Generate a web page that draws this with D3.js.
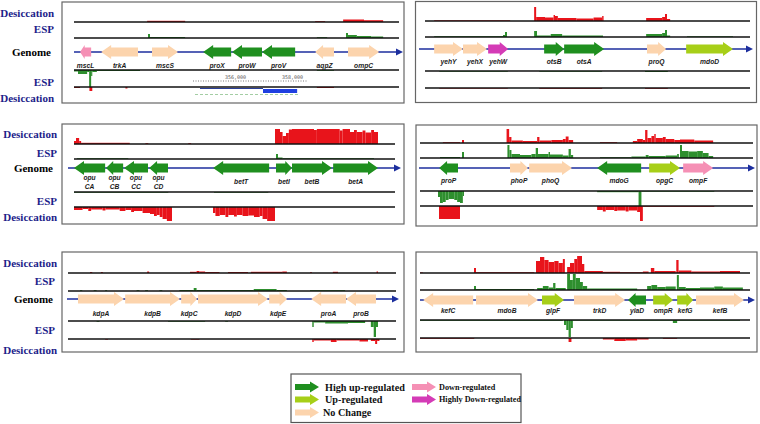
<!DOCTYPE html>
<html><head><meta charset="utf-8">
<script src="https://cdn.jsdelivr.net/npm/d3@7"></script>
<style>body{margin:0;background:#fff}svg{display:block}</style>
</head><body>
<svg id="c" width="760" height="424"></svg>
<script>
// ---------- DATA ----------
// Track names
const trackNames = ["Desiccation", "ESP", "Genome", "ESP", "Desiccation"];
// Genomic window lengths (kb) for each panel, and the drawn genome axis extents (kb)
const windowKb = [11.375, 11.375, 11.235, 11.655, 11.48, 11.55];
const axisKb = [[0, 11.515], [-0.21, 11.48], [-0.21, 11.445], [-0.035, 11.725], [-0.035, 11.585], [0, 11.725]];
// Panel 1 coordinate origin (bp) and browser scale
const p1OriginBp = 350350;
const scaleTicksBp = [356000, 358000];
const scaleRuleBp = [354515, 358540];
const featureLineBp = [354760, 356965];
const featureBarBp = [356965, 358160];
const featureGreenBp = [354585, 358260];

// Genes: [name, start kb, end kb, strand, regulation]
const genes1 = [
  ["mscL", 0.21, 0.60, -1, "down"], ["trkA", 0.95, 2.24, -1, "none"], ["mscS", 2.73, 3.64, 1, "none"],
  ["proX", 4.52, 5.50, -1, "high"], ["proW", 5.53, 6.58, -1, "high"], ["proV", 6.58, 7.74, -1, "high"],
  ["aqpZ", 8.44, 9.10, -1, "none"], ["ompC", 9.59, 10.68, 1, "none"]
];
const genes2 = [
  ["yehY", 0.32, 1.33, 1, "none"], ["yehX", 1.33, 2.17, 1, "none"], ["yehW", 2.21, 2.91, 1, "highdown"],
  ["otsB", 4.17, 4.87, 1, "high"], ["otsA", 4.87, 6.27, 1, "high"], ["proQ", 7.77, 8.44, 1, "none"],
  ["mdoD", 9.14, 10.78, 1, "up"]
];
const genes3 = [
  ["opu|CA", 0.0, 1.09, -1, "high"], ["opu|CB", 1.12, 1.72, -1, "high"], ["opu|CC", 1.75, 2.59, -1, "high"],
  ["opu|CD", 2.63, 3.29, -1, "high"], ["betT", 4.87, 6.83, -1, "high"], ["betI", 7.07, 7.63, 1, "high"],
  ["betB", 7.63, 9.03, 1, "high"], ["betA", 9.07, 10.64, 1, "high"]
];
const genes4 = [
  ["proP", 0.67, 1.33, -1, "high"], ["phoP", 3.15, 3.78, 1, "none"], ["phoQ", 3.82, 5.32, 1, "none"],
  ["mdoG", 6.20, 7.74, -1, "high"], ["opgC", 8.02, 9.10, 1, "up"], ["ompF", 9.21, 10.26, 1, "down"]
];
const genes5 = [
  ["kdpA", 0.35, 1.96, 1, "none"], ["kdpB", 2.00, 3.92, 1, "none"], ["kdpC", 3.96, 4.52, 1, "none"],
  ["kdpD", 4.55, 7.00, 1, "none"], ["kdpE", 7.04, 7.67, 1, "none"], ["proA", 8.51, 9.73, -1, "none"],
  ["proB", 9.73, 10.78, -1, "none"]
];
const genes6 = [
  ["kefC", 0.11, 1.86, -1, "none"], ["mdoB", 1.96, 4.13, 1, "none"], ["glpF", 4.27, 5.04, 1, "up"],
  ["trkD", 5.39, 7.18, 1, "none"], ["yiaD", 7.28, 7.91, -1, "high"], ["ompR", 8.16, 8.86, 1, "up"],
  ["kefG", 9.00, 9.56, 1, "up"], ["kefB", 9.66, 11.34, 1, "none"]
];

// Coverage tracks: [start kb, end kb, coverage]
// D1 = Desiccation (upper), E1 = ESP (upper), E2 = ESP (lower, mirrored), D2 = Desiccation (lower, mirrored)
const p1D1 = [[2.56, 3.89, 1.2], [8.44, 8.79, 0.8], [9.42, 10.15, 2.5], [10.15, 10.82, 1.8]];
const p1E1 = [[2.59, 2.66, 4], [2.66, 3.89, 1], [8.5, 8.86, 0.8], [9.52, 9.59, 5], [9.59, 9.9, 3], [9.9, 10.4, 2], [10.4, 10.82, 1.5]];
const p1E2 = [[0.0, 0.14, 1.5], [0.14, 0.46, 4], [0.46, 0.53, 2], [0.53, 0.6, 17], [0.6, 0.64, 6], [0.64, 0.8, 2], [0.8, 2.31, 1], [8.5, 9.1, 0.8]];
const p1D2 = [[0.0, 0.21, 1], [0.54, 0.64, 4], [1.8, 1.87, 1.5], [8.5, 9.1, 1]];

const p2D1 = [[0.32, 2.98, 0.7], [3.82, 3.89, 14], [3.89, 4.2, 4], [4.2, 4.5, 3.5], [4.5, 4.55, 6], [4.55, 4.65, 5],
  [4.65, 5.3, 3], [5.3, 5.9, 2.5], [5.9, 6.2, 3.5], [6.2, 6.25, 5], [7.74, 8.3, 3], [8.3, 8.4, 4], [8.4, 8.47, 7], [8.47, 8.58, 2]];
const p2E1 = [[0.32, 2.73, 0.8], [2.73, 2.8, 2], [2.8, 2.87, 5], [3.82, 3.92, 6], [3.92, 4.4, 1.5], [4.4, 4.8, 3], [4.8, 6.23, 1.5],
  [7.74, 8.3, 3], [8.3, 8.4, 4], [8.4, 8.47, 7], [8.47, 8.58, 1.5], [9.17, 10.78, 0.7]];
const p2E2 = [[0.5, 2.9, 0.7], [4.0, 6.2, 0.7], [7.7, 8.5, 1]];
const p2D2 = [[0.5, 2.9, 0.6], [4.0, 6.2, 0.8], [7.7, 8.5, 0.8]];

const p3D1 = [[0, 0.07, 3], [0.07, 0.18, 6], [0.18, 0.25, 3], [0.25, 1.95, 1.2], [2.5, 2.6, 0.8], [4.0, 4.1, 0.8],
  [7.035, 7.21, 15], [7.21, 7.3, 12], [7.3, 7.42, 8], [7.42, 7.52, 11], [7.52, 7.63, 14.5], [7.63, 8.4, 15], [8.4, 8.5, 14],
  [8.5, 9.3, 15], [9.3, 9.4, 13.5], [9.4, 9.66, 15], [9.66, 9.8, 12], [9.8, 9.9, 14], [9.9, 10.1, 12], [10.1, 10.2, 13.5],
  [10.2, 10.4, 11.5], [10.4, 10.5, 14], [10.5, 10.64, 12]];
const p3E1 = [[0.1, 1.9, 0.8], [7.07, 7.14, 5], [7.14, 7.3, 1.5], [7.3, 10.5, 0.8]];
const p3E2 = [[0, 3.3, 0.7], [4.9, 6.8, 0.7]];
const p3D2 = [[0, 0.3, 3], [0.3, 0.5, 2], [0.5, 0.6, 4], [0.6, 1.0, 2.5], [1.0, 1.1, 3.5], [1.1, 1.6, 2.5], [1.6, 1.8, 4],
  [1.8, 2.0, 3], [2.0, 2.1, 5], [2.1, 2.4, 4], [2.4, 2.66, 6], [2.66, 2.8, 7], [2.8, 2.9, 9], [2.9, 3.0, 8], [3.0, 3.1, 10],
  [3.1, 3.25, 12], [3.25, 3.43, 14], [4.865, 4.95, 6], [4.95, 5.1, 9], [5.1, 5.3, 8], [5.3, 5.4, 10], [5.4, 5.6, 8],
  [5.6, 5.7, 9.5], [5.7, 5.9, 8], [5.9, 6.1, 9], [6.1, 6.3, 8.5], [6.3, 6.5, 10], [6.5, 6.6, 9], [6.6, 6.76, 12], [6.76, 7.035, 14]];

const p4D1 = [[0.8, 1.4, 0.8], [1.47, 1.54, 3], [3.03, 3.12, 14], [3.12, 3.2, 6], [3.2, 3.6, 2.5], [3.6, 4.1, 2], [4.1, 4.18, 6],
  [4.18, 4.6, 2.5], [4.6, 5.0, 3], [5.0, 5.1, 4], [5.1, 5.2, 6.5], [5.2, 5.36, 3], [6.3, 6.9, 0.8], [7.45, 7.6, 2], [7.6, 7.8, 4],
  [7.8, 7.88, 3], [7.88, 7.96, 13], [7.96, 8.1, 5], [8.1, 8.2, 7], [8.2, 8.25, 9], [8.25, 8.5, 5], [8.5, 8.6, 6], [8.6, 8.9, 4],
  [8.9, 9.1, 3], [9.1, 9.6, 3.5], [9.6, 10.26, 2.5]];
const p4E1 = [[0.7, 1.4, 1], [1.47, 1.54, 6], [3.06, 3.13, 13], [3.13, 3.2, 8], [3.2, 3.5, 4], [3.5, 3.9, 3], [3.9, 4.05, 4],
  [4.05, 4.13, 10], [4.13, 4.5, 4], [4.5, 4.55, 6], [4.55, 5.0, 3.5], [5.0, 5.2, 2.5], [5.2, 5.28, 9], [5.28, 5.36, 3],
  [6.3, 7.4, 0.8], [7.4, 7.9, 1.5], [7.9, 8.0, 3], [8.0, 8.6, 2], [8.6, 9.0, 2.5], [9.0, 9.06, 4], [9.1, 9.17, 13],
  [9.17, 9.4, 7], [9.4, 9.7, 6.5], [9.7, 9.9, 7], [9.9, 10.1, 5], [10.1, 10.26, 2]];
const p4E2 = [[0.63, 0.7, 6], [0.7, 0.8, 12], [0.8, 0.9, 11], [0.9, 1.0, 9], [1.0, 1.2, 8], [1.2, 1.3, 9], [1.3, 1.4, 11],
  [1.4, 1.5, 12], [1.5, 1.54, 5], [6.2, 7.65, 1.2], [7.65, 7.75, 15], [7.75, 10.3, 0.7]];
const p4D2 = [[0.665, 1.4, 13], [6.2, 6.4, 4], [6.4, 6.5, 5.5], [6.5, 6.8, 4], [6.8, 6.9, 5], [6.9, 7.2, 4.5], [7.2, 7.3, 5.5],
  [7.3, 7.6, 4.5], [7.6, 7.7, 6], [7.7, 7.8, 15], [7.8, 10.3, 0.8]];

const p5D1 = [[0.77, 0.85, 1], [1.15, 1.22, 1], [2.77, 2.84, 1.5], [4.27, 4.5, 1.2], [4.5, 4.6, 2], [4.6, 4.8, 1.5],
  [4.8, 5.3, 1], [5.6, 6.3, 1], [6.4, 7.5, 1.2], [7.5, 7.66, 1.5], [8.47, 8.54, 0.8], [9.27, 9.45, 1.2], [10.8, 10.85, 1.5]];
const p5E1 = [[0.42, 0.5, 0.8], [0.9, 1.0, 0.8], [1.3, 1.37, 0.8], [2.4, 2.5, 0.8], [2.7, 2.8, 0.8], [3.2, 3.3, 0.8],
  [3.9, 4.4, 1], [4.4, 4.5, 3], [4.5, 6.5, 1], [6.5, 7.3, 2], [7.3, 7.66, 1], [8.47, 9.7, 0.8]];
const p5E2 = [[1.0, 1.1, 0.8], [3.5, 4.8, 0.7], [5.5, 5.6, 0.7], [8.55, 8.6, 6], [8.6, 9.0, 1.5], [9.0, 9.8, 2.5],
  [9.8, 10.4, 2], [10.6, 10.7, 6], [10.7, 10.78, 16], [10.78, 10.85, 6]];
const p5D2 = [[1.3, 1.4, 0.6], [4.3, 4.6, 0.6], [8.55, 8.6, 3], [8.6, 9.2, 1.5], [9.2, 9.4, 3], [9.4, 10.2, 1.5],
  [10.2, 10.5, 2.5], [10.6, 10.75, 2], [10.75, 10.82, 5], [10.82, 10.9, 2]];

const p6D1 = [[0.0, 0.1, 0.6], [1.89, 1.96, 5], [1.96, 4.0, 0.8], [4.06, 4.2, 12], [4.2, 4.35, 16], [4.35, 4.5, 13],
  [4.5, 4.7, 11], [4.7, 4.85, 12], [4.85, 5.0, 10], [5.0, 5.07, 14], [5.15, 5.25, 6], [5.25, 5.4, 10], [5.4, 5.5, 14],
  [5.5, 5.67, 17], [5.67, 5.75, 9], [5.75, 6.4, 2], [6.4, 7.0, 1.2], [7.0, 7.8, 0.8], [7.8, 8.0, 1.5], [8.08, 8.2, 5],
  [8.2, 8.95, 2], [8.97, 9.05, 13], [9.05, 9.5, 2.5], [9.5, 10.5, 1.5], [10.5, 11.2, 2]];
const p6E1 = [[1.89, 1.96, 4], [1.96, 4.0, 1], [4.1, 4.3, 2], [4.3, 4.5, 4], [4.5, 4.66, 2.5], [4.66, 4.74, 7], [4.74, 5.1, 2],
  [5.15, 5.25, 16], [5.25, 5.35, 10], [5.35, 5.45, 16], [5.45, 5.6, 12], [5.6, 5.7, 8], [5.7, 5.85, 4], [5.85, 7.6, 1.5],
  [7.95, 8.1, 4], [8.1, 8.3, 5], [8.3, 8.6, 3], [8.6, 8.95, 3.5], [8.99, 9.06, 15], [9.06, 9.3, 3], [9.3, 9.8, 2],
  [9.8, 10.3, 2.5], [10.3, 10.6, 3.5], [10.6, 11.3, 2.5]];
const p6E2 = [[0.0, 5.0, 0.8], [5.04, 5.12, 5], [5.12, 5.2, 10], [5.2, 5.28, 17], [5.28, 5.35, 8], [5.35, 11.2, 0.7], [8.85, 9.0, 3]];
const p6D2 = [[0.0, 1.9, 0.8], [5.2, 5.3, 4], [6.4, 6.8, 1.5], [6.8, 7.2, 3], [7.2, 7.6, 2.5], [7.6, 8.0, 1.5], [8.5, 9.0, 0.8]];

// Legend categories
const legendItems = [
  ["high", "High up-regulated"], ["up", "Up-regulated"], ["none", "No Change"],
  ["down", "Down-regulated"], ["highdown", "Highly Down-regulated"]
];

// ---------- STYLE / LAYOUT ----------
const geneColor = { high: "#1f8f1f", up: "#a7cf18", none: "#fcd4ad", down: "#f590b5", highdown: "#d43bb6" };
const RED = "#e8141b", GREEN = "#2e8f2e", AXIS = "#1c2e9e", NAVY = "#1d1d8a";

const layout = [
  { box: [62, 2, 342, 101], x: [74, 399], y: [22, 38, 52, 66, 70, 87] },
  { box: [415.5, 1.5, 341, 101], x: [425, 750], y: [21, 37, 49, 62, 71, 88] },
  { box: [62, 124, 342, 100], x: [74, 395], y: [144, 159, 168, 182, 192, 207] },
  { box: [416, 125, 341, 101], x: [420, 753], y: [143, 158, 168, 181, 191, 206] },
  { box: [62, 252, 342, 100], x: [68, 396], y: [273, 291, 299, 314, 321, 339] },
  { box: [416, 252, 341, 100], x: [420, 750], y: [273, 290, 300, 311, 320, 338] }
];
const allGenes = [genes1, genes2, genes3, genes4, genes5, genes6];
const allTracks = [
  [p1D1, p1E1, p1E2, p1D2], [p2D1, p2E1, p2E2, p2D2], [p3D1, p3E1, p3E2, p3D2],
  [p4D1, p4E1, p4E2, p4D2], [p5D1, p5E1, p5E2, p5D2], [p6D1, p6E1, p6E2, p6D2]
];
const labelGroups = [
  { panel: 0, ys: [13, 29, 52, 82, 98], xr: [54, 54, 51, 54, 54] },
  { panel: 2, ys: [134, 153, 168, 201, 217], xr: [57, 57, 53, 57, 57] },
  { panel: 4, ys: [263, 281, 299, 330, 350], xr: [57, 55, 53, 55, 57] }
];

const svg = d3.select("#c");
const cov = d3.scaleLinear().domain([0, 16]).range([0, 16]);

function arrowPath(xa, xb, yc, strand, bodyH, headH, headMax) {
  const len = Math.abs(xb - xa);
  const hl = Math.min(headMax, len * 0.42);
  const b = bodyH / 2, h = headH / 2;
  if (strand > 0) {
    return `M${xa},${yc - b}L${xb - hl},${yc - b}L${xb - hl},${yc - h}L${xb},${yc}L${xb - hl},${yc + h}L${xb - hl},${yc + b}L${xa},${yc + b}Z`;
  }
  return `M${xb},${yc - b}L${xa + hl},${yc - b}L${xa + hl},${yc - h}L${xa},${yc}L${xa + hl},${yc + h}L${xa + hl},${yc + b}L${xb},${yc + b}Z`;
}

layout.forEach((L, i) => {
  const g = svg.append("g");
  const x = d3.scaleLinear().domain([0, windowKb[i]]).range(L.x);
  const [yD1, yE1, yG, yLab, yE2, yD2] = L.y;
  // box
  g.append("rect").attr("x", L.box[0]).attr("y", L.box[1]).attr("width", L.box[2]).attr("height", L.box[3])
    .attr("fill", "none").attr("stroke", "#666").attr("stroke-width", 1.2);

  // coverage tracks
  const specs = [[yD1, -1, RED], [yE1, -1, GREEN], [yE2, 1, GREEN], [yD2, 1, RED]];
  allTracks[i].forEach((tr, k) => {
    const [base, dir, col] = specs[k];
    g.append("g").selectAll("rect").data(tr).join("rect")
      .attr("x", d => x(d[0]))
      .attr("width", d => Math.max(1, x(d[1]) - x(d[0])))
      .attr("y", d => dir < 0 ? base - cov(d[2]) : base)
      .attr("height", d => cov(d[2]))
      .attr("fill", col);
  });

  // track lines
  [yD1, yE1, yE2, yD2].forEach(yy => {
    g.append("line").attr("x1", x(0)).attr("x2", x(windowKb[i])).attr("y1", yy).attr("y2", yy)
      .attr("stroke", "#111").attr("stroke-width", 1.5);
  });

  // genome axis
  const [a0, a1] = axisKb[i];
  g.append("line").attr("x1", x(a0)).attr("x2", x(a1) - 5).attr("y1", yG).attr("y2", yG)
    .attr("stroke", AXIS).attr("stroke-width", 1.6);
  g.append("path").attr("d", `M${x(a1)},${yG}L${x(a1) - 7},${yG - 3.5}L${x(a1) - 7},${yG + 3.5}Z`).attr("fill", AXIS);

  // genes
  const gg = g.append("g").selectAll("g").data(allGenes[i]).join("g");
  gg.append("path")
    .attr("d", d => arrowPath(x(d[1]), x(d[2]), yG, d[3], 9, 14, 10))
    .attr("fill", d => geneColor[d[4]]);
  gg.each(function (d) {
    const parts = d[0].split("|");
    const cx = (x(d[1]) + x(d[2])) / 2;
    const t = d3.select(this).append("text").attr("x", cx)
      .attr("text-anchor", "middle")
      .attr("font-family", "Liberation Sans, Arial, sans-serif")
      .attr("font-size", 6.7).attr("font-weight", "bold").attr("font-style", "italic").attr("fill", "#1a1a1a");
    if (parts.length === 1) {
      t.attr("y", yLab).attr("dy", "0.35em").text(parts[0]);
    } else {
      t.append("tspan").attr("x", cx).attr("y", yLab - 4.5).attr("dy", "0.35em").text(parts[0]);
      t.append("tspan").attr("x", cx).attr("y", yLab + 4.5).attr("dy", "0.35em").text(parts[1]);
    }
  });

  // panel 1: genome browser ruler and feature
  if (i === 0) {
    const bx = bp => x((bp - p1OriginBp) / 1000);
    g.append("line").attr("x1", bx(scaleRuleBp[0])).attr("x2", bx(scaleRuleBp[1])).attr("y1", 81).attr("y2", 81)
      .attr("stroke", "#555").attr("stroke-width", 0.8).attr("stroke-dasharray", "1,1.5");
    g.selectAll(".tk").data(scaleTicksBp).join("text").attr("x", d => bx(d)).attr("y", 79)
      .attr("text-anchor", "middle").attr("font-family", "DejaVu Sans Mono, monospace").attr("font-size", 5)
      .attr("fill", "#555").text(d => d3.format(",")(d));
    g.append("line").attr("x1", bx(featureLineBp[0])).attr("x2", bx(featureLineBp[1])).attr("y1", 88.5).attr("y2", 88.5)
      .attr("stroke", "#2a3f9a").attr("stroke-width", 1.2);
    g.append("rect").attr("x", bx(featureBarBp[0])).attr("width", bx(featureBarBp[1]) - bx(featureBarBp[0]))
      .attr("y", 89).attr("height", 4).attr("fill", "#1f3fe0");
    g.append("line").attr("x1", bx(featureGreenBp[0])).attr("x2", bx(featureGreenBp[1])).attr("y1", 94.5).attr("y2", 94.5)
      .attr("stroke", "#8cc08c").attr("stroke-width", 0.8).attr("stroke-dasharray", "3,2");
  }
});

// left track labels
labelGroups.forEach(G => {
  trackNames.forEach((nm, k) => {
    svg.append("text").attr("x", G.xr[k]).attr("y", G.ys[k]).attr("dy", "0.35em")
      .attr("text-anchor", "end").attr("font-family", "Liberation Serif, Times New Roman, serif")
      .attr("font-weight", "bold").attr("font-size", 11)
      .attr("fill", nm === "Genome" ? "#000" : NAVY).text(nm);
  });
});

// legend
const lg = svg.append("g");
lg.append("rect").attr("x", 291).attr("y", 374).attr("width", 230).attr("height", 48.5)
  .attr("fill", "#fff").attr("stroke", "#555").attr("stroke-width", 1.2);
const legPos = [[295, 387, 325, 10.2], [295, 399.5, 325, 10.2], [295, 412.5, 323, 10.2], [412, 387, 439, 8.2], [412, 399.5, 439, 8.2]];
legendItems.forEach((it, k) => {
  const [ax, ay, tx, fs] = legPos[k];
  lg.append("path").attr("d", arrowPath(ax, ax + 24, ay, 1, 6, 11, 9)).attr("fill", geneColor[it[0]]);
  lg.append("text").attr("x", tx).attr("y", ay).attr("dy", "0.35em")
    .attr("font-family", "Liberation Serif, Times New Roman, serif").attr("font-weight", "bold")
    .attr("font-size", fs).attr("fill", "#111").text(it[1]);
});
</script>
</body></html>
